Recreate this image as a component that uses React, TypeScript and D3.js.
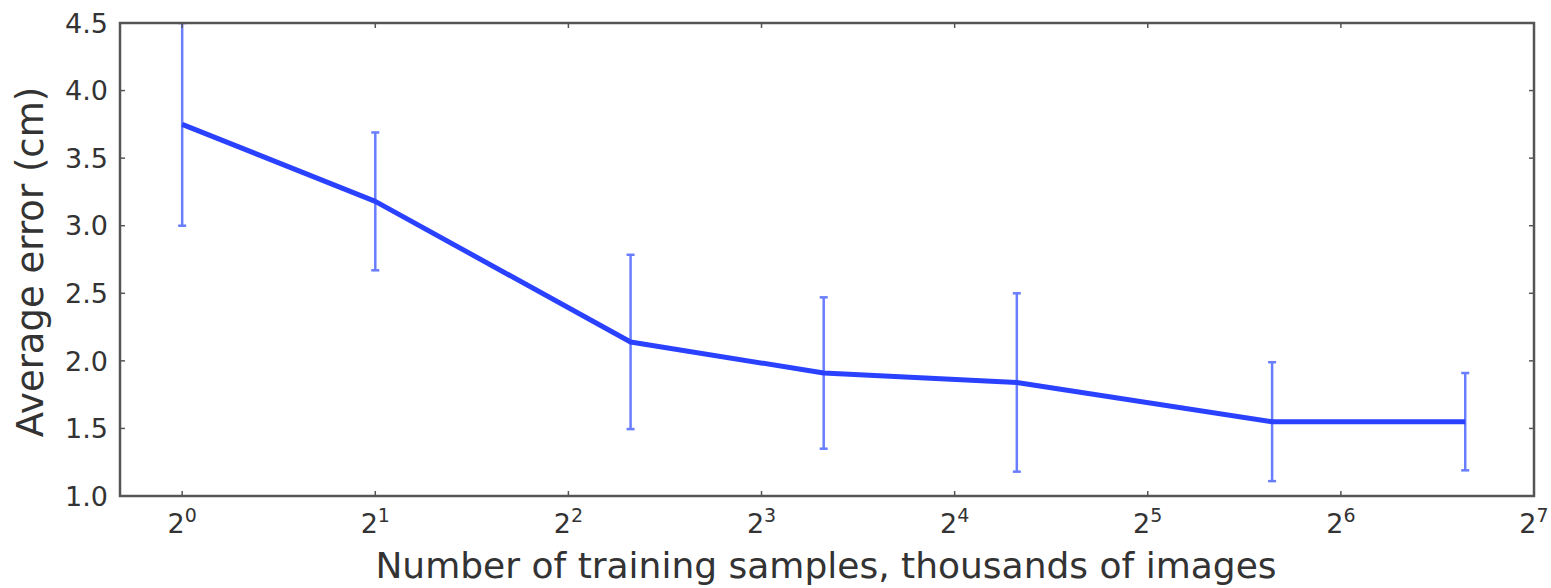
import React, { useEffect, useRef } from "react";
import * as d3 from "d3";

// training set size (thousands of images) and measured error
const samples = [1, 2, 5, 10, 20, 50, 100];
const meanError = [3.75, 3.18, 2.14, 1.91, 1.84, 1.55, 1.55];
const errorSpread = [0.75, 0.51, 0.645, 0.56, 0.66, 0.44, 0.36];
const xTickPowers = [0, 1, 2, 3, 4, 5, 6, 7];
const yTicks = [1.0, 1.5, 2.0, 2.5, 3.0, 3.5, 4.0, 4.5];

const App = () => {
  const svgRef = useRef<SVGSVGElement>(null);
  const width = 1551;
  const height = 588;
  const margin = { top: 23, right: 17, bottom: 92, left: 120 };

  useEffect(() => {
    const svg = d3.select(svgRef.current);
    svg.selectAll("*").remove();

    const x0 = margin.left;
    const x1 = width - margin.right;
    const y0 = height - margin.bottom;
    const y1 = margin.top;

    const x = d3.scaleLog().base(2).domain([0.8, 128]).range([x0, x1]);
    const y = d3.scaleLinear().domain([1, 4.5]).range([y0, y1]);

    const font = "'DejaVu Sans', sans-serif";
    const textColor = "#333";

    svg.append("defs").append("clipPath").attr("id", "plotClip")
      .append("rect").attr("x", x0).attr("y", y1).attr("width", x1 - x0).attr("height", y0 - y1);

    const plot = svg.append("g").attr("clip-path", "url(#plotClip)");

    const pts = samples.map((s, i) => ({ s, m: meanError[i], e: errorSpread[i] }));

    // error bars
    const bars = plot.append("g").attr("stroke", "rgb(105,125,255)").attr("stroke-width", 2.5);
    pts.forEach((p) => {
      const cx = x(p.s);
      bars.append("line").attr("x1", cx).attr("x2", cx).attr("y1", y(p.m + p.e)).attr("y2", y(p.m - p.e));
      [p.m + p.e, p.m - p.e].forEach((v) => {
        bars.append("line").attr("x1", cx - 4).attr("x2", cx + 4).attr("y1", y(v)).attr("y2", y(v));
      });
    });

    const line = d3.line<{ s: number; m: number }>().x((d) => x(d.s)).y((d) => y(d.m));
    plot.append("path").datum(pts).attr("d", line)
      .attr("fill", "none").attr("stroke", "#2a42ff").attr("stroke-width", 5)
      .attr("stroke-linejoin", "round");

    // ticks (inward, like matplotlib)
    const ticks = svg.append("g").attr("stroke", "#555").attr("stroke-width", 1.5);
    xTickPowers.forEach((p) => {
      const tx = x(Math.pow(2, p));
      ticks.append("line").attr("x1", tx).attr("x2", tx).attr("y1", y0).attr("y2", y0 - 5);
      ticks.append("line").attr("x1", tx).attr("x2", tx).attr("y1", y1).attr("y2", y1 + 5);
    });
    yTicks.forEach((v) => {
      ticks.append("line").attr("x1", x0).attr("x2", x0 + 5).attr("y1", y(v)).attr("y2", y(v));
      ticks.append("line").attr("x1", x1).attr("x2", x1 - 5).attr("y1", y(v)).attr("y2", y(v));
    });

    // frame
    svg.append("rect").attr("x", x0).attr("y", y1).attr("width", x1 - x0).attr("height", y0 - y1)
      .attr("fill", "none").attr("stroke", "#555").attr("stroke-width", 2.5);

    // y tick labels
    svg.append("g").selectAll("text").data(yTicks).join("text")
      .attr("x", x0 - 12).attr("y", (d) => y(d)).attr("dy", "0.36em")
      .attr("text-anchor", "end").attr("font-family", font).attr("font-size", 27)
      .attr("fill", textColor).text((d) => d.toFixed(1));

    // x tick labels 2^n
    const xl = svg.append("g").selectAll("text").data(xTickPowers).join("text")
      .attr("x", (d) => x(Math.pow(2, d))).attr("y", 533)
      .attr("text-anchor", "middle").attr("font-family", font).attr("fill", textColor);
    xl.append("tspan").attr("font-size", 27).text("2");
    xl.append("tspan").attr("font-size", 19).attr("dy", -11).text((d) => String(d));

    // axis titles
    svg.append("text").attr("x", 826).attr("y", 578)
      .attr("text-anchor", "middle").attr("font-family", font).attr("font-size", 36)
      .attr("fill", textColor).text("Number of training samples, thousands of images");

    svg.append("text").attr("transform", `translate(43,262) rotate(-90)`)
      .attr("text-anchor", "middle").attr("font-family", font).attr("font-size", 37)
      .attr("fill", textColor).text("Average error (cm)");
  }, []);

  return (
    <svg ref={svgRef} width={width} height={height}
      style={{ position: "absolute", left: 0, top: 0, background: "#fff" }} />
  );
};

export default App;
